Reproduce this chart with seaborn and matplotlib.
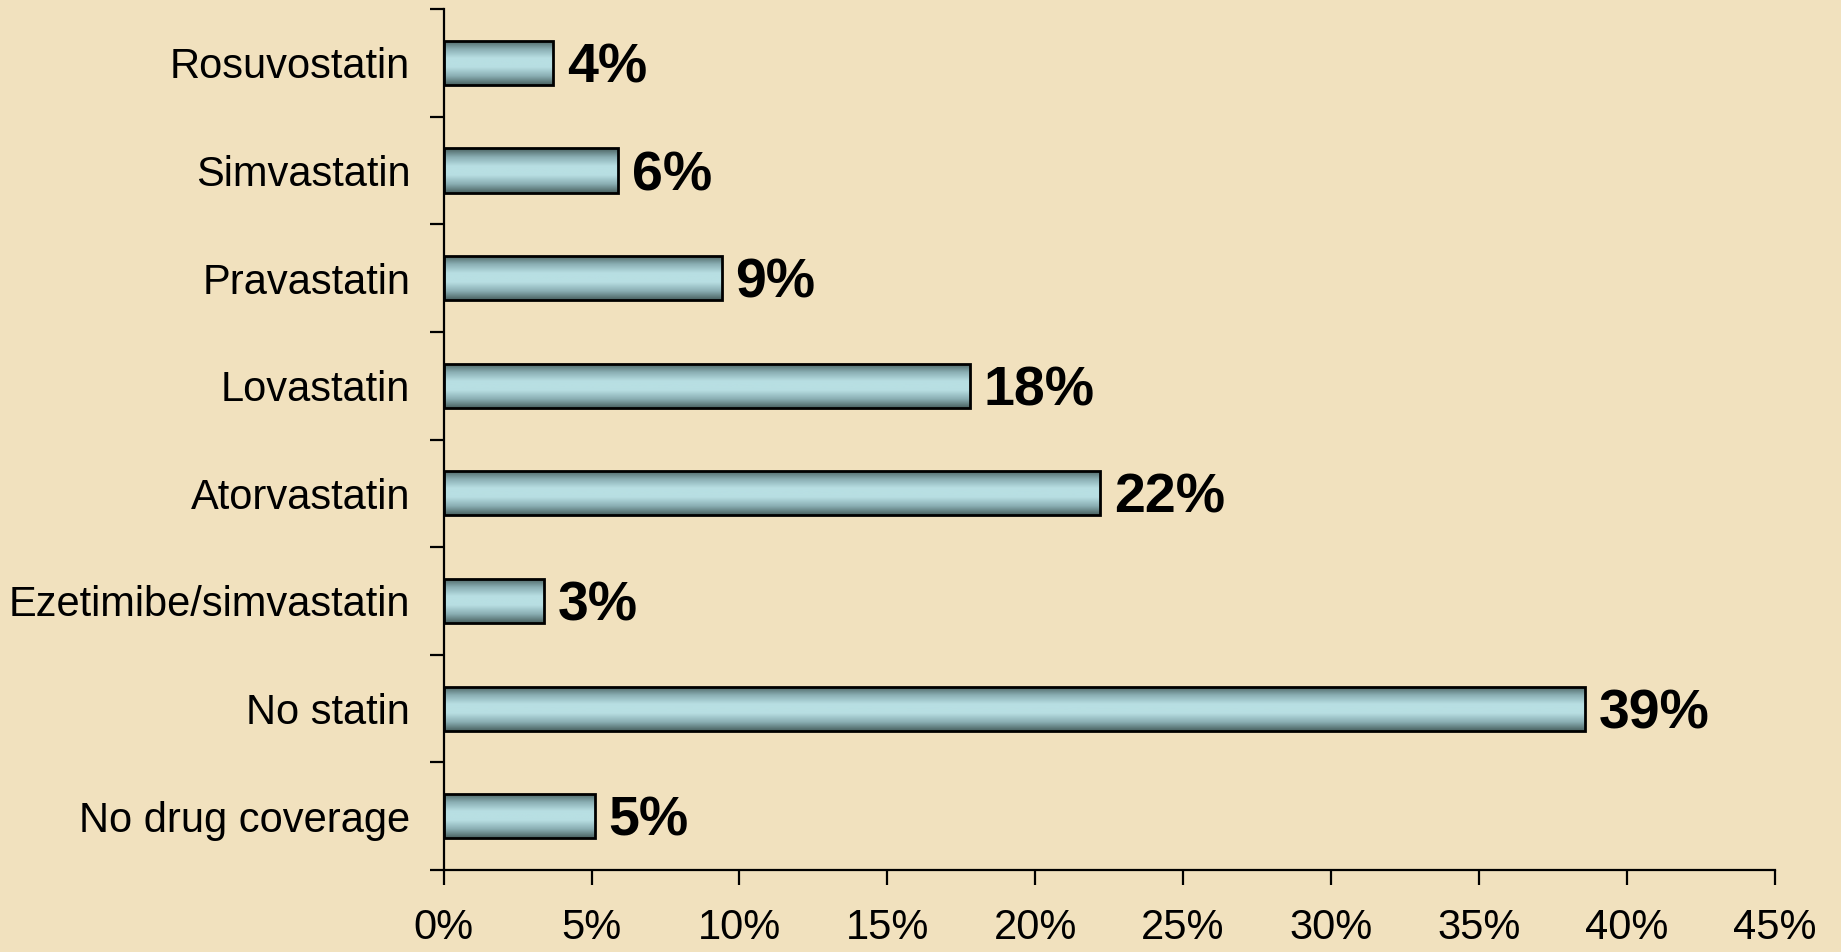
import numpy as np
import pandas as pd
import matplotlib
matplotlib.use("Agg")
import matplotlib.pyplot as plt
import seaborn as sns
from matplotlib.colors import LinearSegmentedColormap

categories = ["Rosuvostatin", "Simvastatin", "Pravastatin", "Lovastatin",
              "Atorvastatin", "Ezetimibe/simvastatin", "No statin", "No drug coverage"]
values = [3.7, 5.9, 9.4, 17.8, 22.2, 3.4, 38.6, 5.1]
value_labels = ["4%", "6%", "9%", "18%", "22%", "3%", "39%", "5%"]
x_ticks = [0, 5, 10, 15, 20, 25, 30, 35, 40, 45]
x_tick_labels = ["0%", "5%", "10%", "15%", "20%", "25%", "30%", "35%", "40%", "45%"]

df = pd.DataFrame({"category": categories, "value": values})

sns.set_theme(style="white")
plt.rcParams["font.family"] = ["Liberation Sans", "DejaVu Sans"]

bg = "#F1E1BE"
fig = plt.figure(figsize=(18.41, 9.52), dpi=100, facecolor=bg)
ax = fig.add_axes([0.241, 0.0861, 0.7229, 0.9044])
ax.set_facecolor("none")

sns.barplot(data=df, x="value", y="category", order=categories, orient="h",
            color="#B8DFE3", edgecolor="black", linewidth=2.0, width=0.41,
            saturation=1, ax=ax)

# gradient fill clipped to bars
cmap = LinearSegmentedColormap.from_list(
    "cyl", ["#48605F", "#8AAEB3", "#B8DFE3", "#B8DFE3", "#8AAEB3", "#48605F"])
grad = np.linspace(0, 1, 256).reshape(-1, 1)
for p in ax.patches:
    x0, y0 = p.get_x(), p.get_y()
    w, h = p.get_width(), p.get_height()
    im = ax.imshow(grad, cmap=cmap, aspect="auto",
                   extent=[x0, x0 + w, y0 + h, y0], zorder=p.get_zorder() + 0.1,
                   interpolation="bicubic")
    im.set_clip_path(p)
    p.set_facecolor("none")
    p.set_zorder(p.get_zorder() + 0.2)

for i, (v, lab) in enumerate(zip(values, value_labels)):
    ax.annotate(lab, xy=(v, i), xytext=(10, -4), textcoords="offset points",
                ha="left", va="center", fontsize=40, fontweight="bold",
                color="black")

ax.set_xlim(0, 45)
ax.set_ylim(len(categories) - 0.5, -0.5)
ax.set_xticks(x_ticks)
ax.set_xticklabels(x_tick_labels)

# category boundaries as major ticks, labels on minor ticks
ax.set_yticks(np.arange(-0.5, len(categories) + 0.5, 1.0))
ax.set_yticklabels([])
ax.set_yticks(np.arange(len(categories)), minor=True)
ax.set_yticklabels(categories, minor=True)

ax.set_xlabel("")
ax.set_ylabel("")

for s in ["top", "right"]:
    ax.spines[s].set_visible(False)
for s in ["left", "bottom"]:
    ax.spines[s].set_visible(True)
    ax.spines[s].set_color("black")
    ax.spines[s].set_linewidth(1.6)

ax.tick_params(axis="x", which="major", direction="out", length=11, width=1.6,
               color="black", labelsize=30, pad=16, bottom=True)
ax.tick_params(axis="y", which="major", direction="out", length=10, width=1.6,
               color="black", left=True)
ax.tick_params(axis="y", which="minor", length=0, labelsize=30, pad=24,
               left=True)
for t in ax.get_xticklabels() + ax.get_yticklabels(minor=True):
    t.set_color("black")

fig.savefig("out.png", dpi=100, facecolor=bg)
